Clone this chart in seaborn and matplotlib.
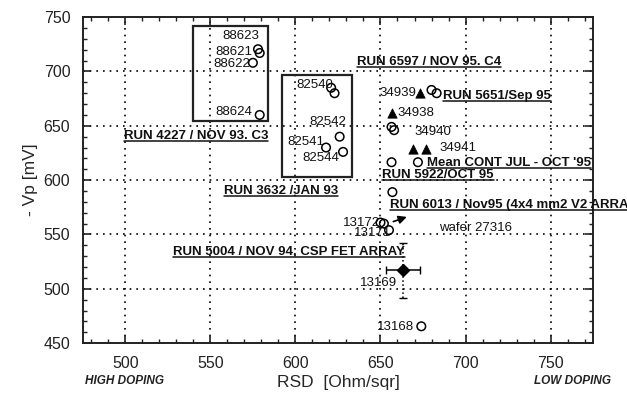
import numpy as np
import pandas as pd
import seaborn as sns
import matplotlib.pyplot as plt
from matplotlib.lines import Line2D
from matplotlib.patches import Rectangle
from matplotlib.ticker import MultipleLocator

# RSD [Ohm/sqr] and -Vp [mV]
run4227_rsd = [578, 579, 575, 579]
run4227_vp = [720.5, 717, 708, 660]

run3632_rsd = [621, 623, 626, 618, 628]
run3632_vp = [685, 680, 640, 630, 626]

run6597_rsd = [673, 656.5, 669, 677]
run6597_vp = [680, 662, 629, 629]

run5651_rsd = [680, 683, 656.5, 658]
run5651_vp = [683, 680, 649, 646]

mean_cont_rsd = [656.5, 672]
mean_cont_vp = [616.5, 616.5]

run5922_rsd = [657]
run5922_vp = [589]

run6013_rsd = [650, 652, 655, 674]
run6013_vp = [561, 560, 554, 465.5]

run5004_rsd = [663]
run5004_vp = [517]
run5004_rsd_err = [10]
run5004_vp_err = [25]

boxes = {"88": (540, 654, 44, 88), "82": (592, 603, 41, 94)}

sns.set_theme(style="ticks")
plt.rcParams['font.family'] = ['Liberation Sans', 'DejaVu Sans']

circles = pd.DataFrame({
    "rsd": run4227_rsd + run3632_rsd + run5651_rsd + mean_cont_rsd + run5922_rsd + run6013_rsd,
    "vp": run4227_vp + run3632_vp + run5651_vp + mean_cont_vp + run5922_vp + run6013_vp,
})
triangles = pd.DataFrame({"rsd": run6597_rsd, "vp": run6597_vp})

fig = plt.figure(figsize=(6.27, 3.99), dpi=100)
ax = fig.add_axes([0.132, 0.14, 0.814, 0.817])

sns.scatterplot(data=circles, x="rsd", y="vp", ax=ax, marker="o", s=38,
                facecolor="none", edgecolor="black", linewidth=1.1, zorder=4)
sns.scatterplot(data=triangles, x="rsd", y="vp", ax=ax, marker="^", s=45,
                color="black", edgecolor="black", zorder=4)

eb = ax.errorbar(run5004_rsd, run5004_vp, xerr=run5004_rsd_err, yerr=run5004_vp_err,
                 fmt="D", color="black", markersize=6, capsize=3, lw=1.1, zorder=4)
eb[2][1].set_linestyle(":")

for x0, y0, w, h in boxes.values():
    ax.add_patch(Rectangle((x0, y0), w, h, fill=False, edgecolor="#222222", lw=1.6, zorder=3))

ax.annotate("", xy=(667, 567), xytext=(656, 561),
            arrowprops=dict(arrowstyle="-|>", color="black", lw=1.2, mutation_scale=12))

ax.set_xlim(475, 775)
ax.set_ylim(450, 750)
ax.xaxis.set_major_locator(MultipleLocator(50))
ax.yaxis.set_major_locator(MultipleLocator(50))
ax.xaxis.set_minor_locator(MultipleLocator(10))
ax.yaxis.set_minor_locator(MultipleLocator(10))
ax.tick_params(which="both", direction="in", top=True, right=True, colors="#222222")
ax.tick_params(which="major", length=6, width=1.2, labelsize=11.5, pad=9)
ax.tick_params(which="minor", length=3, width=1)
ax.grid(True, which="major", linestyle=(0, (1, 3)), color="black", lw=1.2)
for s in ax.spines.values():
    s.set_linewidth(1.4)
    s.set_color("#222222")

ax.set_xlabel("RSD  [Ohm/sqr]", fontsize=12.5, labelpad=3)
ax.set_ylabel("- Vp [mV]", fontsize=12.5, labelpad=4)

# wafer labels
num_kw = dict(fontsize=9.5, color="#111111", va="center", zorder=5)
for txt, x, y in [("88623", 557, 732.5), ("88621", 552.8, 717.5), ("88622", 551.6, 707.2),
                  ("88624", 552.8, 662.6), ("82540", 600.8, 687.4), ("82542", 608.4, 653.4),
                  ("82541", 595, 635), ("82544", 604, 620.3), ("34939", 649.5, 680),
                  ("34938", 660, 661.7), ("34940", 670, 644), ("34941", 684.6, 629.5),
                  ("13168", 648, 464.8), ("wafer 27316", 684.6, 555.8)]:
    ax.text(x, y, txt, **num_kw)
for txt, x, y in [("13172", 649.5, 561), ("13171", 656.5, 551), ("13169", 660, 505)]:
    ax.text(x, y, txt, ha="right", **num_kw)

# run labels (underlined)
runs = []
for txt, x, y in [("RUN 6597 / NOV 95. C4", 636, 708.6), ("RUN 5651/Sep 95", 687, 677),
                  ("RUN 4227 / NOV 93. C3", 499, 641), ("RUN 3632 /JAN 93", 558, 590),
                  ("RUN 5922/OCT 95", 651, 605), ("Mean CONT JUL - OCT '95", 677.6, 616),
                  ("RUN 6013 / Nov95 (4x4 mm2 V2 ARRAY)", 655.3, 577.5),
                  ("RUN 5004 / NOV 94. CSP FET ARRAY", 528, 533.5)]:
    runs.append(ax.text(x, y, txt, fontsize=9.5, weight="bold", color="#111111",
                        va="center", clip_on=False, zorder=5))

fig.text(0.135, 0.037, "HIGH DOPING", fontsize=8.5, style="italic", weight="bold", color="#222222")
fig.text(0.975, 0.037, "LOW DOPING", fontsize=8.5, style="italic", weight="bold",
         color="#222222", ha="right")

fig.canvas.draw()
inv = fig.transFigure.inverted()
for t in runs:
    bb = t.get_window_extent()
    (x0, y0), (x1, _) = inv.transform([(bb.x0, bb.y0 + 1), (bb.x1, bb.y0)])
    fig.add_artist(Line2D([x0, x1], [y0, y0], color="#111111", lw=1.1))

fig.savefig("out.png", dpi=100)
